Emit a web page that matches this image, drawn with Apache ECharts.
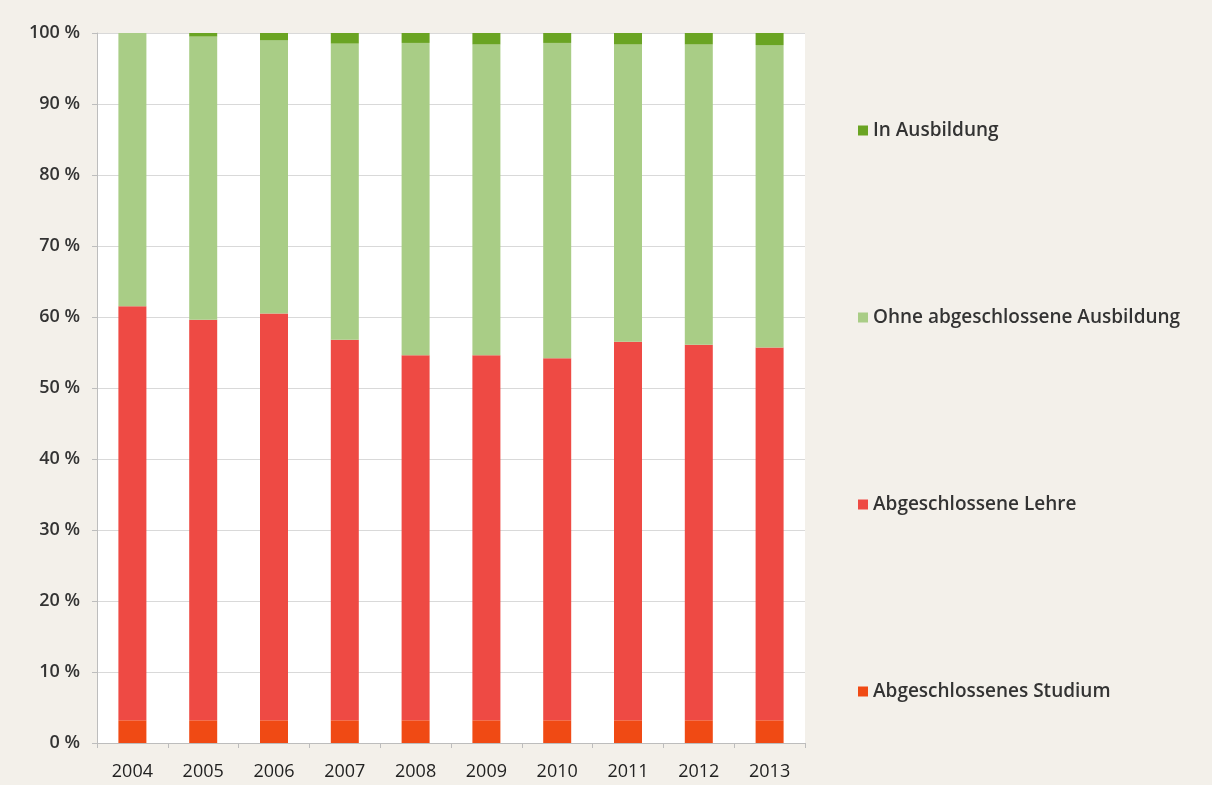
<!DOCTYPE html>
<html><head><meta charset="utf-8">
<script src="https://cdn.jsdelivr.net/npm/echarts@6/dist/echarts.min.js"></script>
<style>html,body{margin:0;padding:0;background:#f3f0ea;}#c{width:1212px;height:785px;}</style>
</head><body><div id="c"></div>
<script>
var years = ['2004','2005','2006','2007','2008','2009','2010','2011','2012','2013'];
var studium = [3.2, 3.2, 3.2, 3.2, 3.2, 3.2, 3.2, 3.2, 3.2, 3.2];
var lehre = [58.3, 56.4, 57.3, 53.6, 51.4, 51.4, 51.0, 53.3, 52.9, 52.5];
var ausbildung = [0.0, 0.5, 1.0, 1.5, 1.4, 1.6, 1.4, 1.6, 1.6, 1.7];
var ohne = years.map(function(_, i){ return +(100 - studium[i] - lehre[i] - ausbildung[i]).toFixed(1); });
var yTicks = [0,10,20,30,40,50,60,70,80,90,100];

var names = ['Abgeschlossenes Studium','Abgeschlossene Lehre','Ohne abgeschlossene Ausbildung','In Ausbildung'];
var colors = ['#f04a14','#ee4a44','#a9cd86','#6aa423'];
var datas = [studium, lehre, ohne, ausbildung];

var chart = echarts.init(document.getElementById('c'));
chart.setOption({
  backgroundColor: '#f3f0ea',
  animation: false,
  grid: {left: 97, right: 407, top: 33, bottom: 42, show: true, backgroundColor: '#ffffff', borderWidth: 0},
  legend: {
    orient: 'vertical', left: 853, top: 116, itemWidth: 10, itemHeight: 10, itemGap: 168,
    data: names.slice().reverse(),
    icon: 'rect',
    textStyle: {fontFamily: 'Open Sans', fontSize: 19, fontWeight: 600, color: '#333'}
  },
  xAxis: {
    type: 'category', data: years,
    axisLine: {lineStyle: {color: '#bdbdbd'}},
    axisTick: {show: true, alignWithLabel: false, lineStyle: {color: '#bdbdbd'}, length: 5},
    axisLabel: {fontFamily: 'Open Sans', fontSize: 18, color: '#222', margin: 20}
  },
  yAxis: {
    type: 'value', min: 0, max: 100, interval: 10,
    axisLine: {show: true, lineStyle: {color: '#bdbdbd'}},
    axisTick: {show: true, length: 5, lineStyle: {color: '#bdbdbd'}},
    splitLine: {lineStyle: {color: '#d9d9d9'}},
    axisLabel: {formatter: function(v){ return yTicks.indexOf(v) >= 0 ? v + ' %' : ''; }, fontFamily: 'Open Sans', fontSize: 18, fontWeight: 600, color: '#333', margin: 17}
  },
  series: names.map(function(n, i){
    return {name: n, type: 'bar', stack: 'total', barWidth: 28, data: datas[i], itemStyle: {color: colors[i]}};
  })
});
</script></body></html>
